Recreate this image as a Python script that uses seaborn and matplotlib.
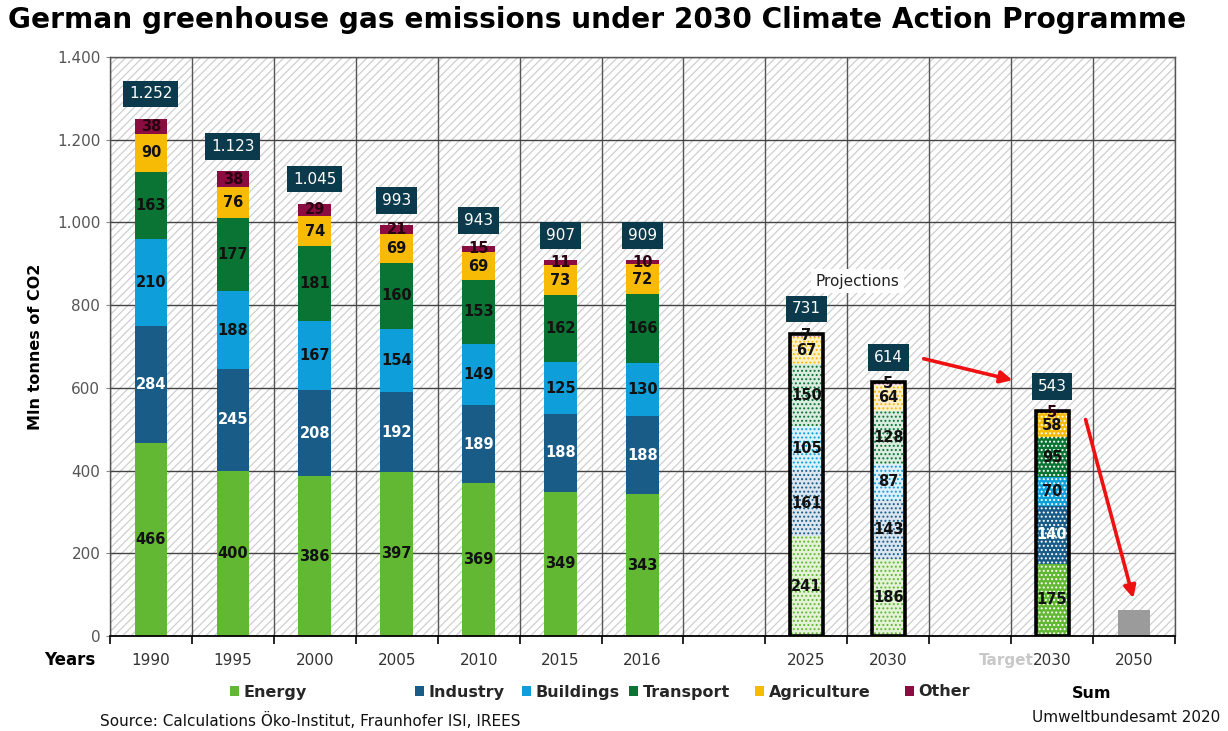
import numpy as np
import pandas as pd
import matplotlib
matplotlib.use("Agg")
import matplotlib.pyplot as plt
import matplotlib.transforms as mtransforms
from matplotlib.patches import Rectangle, Patch
from matplotlib.ticker import FixedLocator, FuncFormatter
import seaborn as sns

# ---------------- data ----------------
categories = ["1990", "1995", "2000", "2005", "2010", "2015", "2016", "gap_a",
              "2025", "2030", "gap_b", "Target 2030", "2050"]
tick_labels = ["1990", "1995", "2000", "2005", "2010", "2015", "2016", "",
               "2025", "2030", "", "2030", "2050"]
sectors = ["Energy", "Industry", "Buildings", "Transport", "Agriculture", "Other"]

historic_years = ["1990", "1995", "2000", "2005", "2010", "2015", "2016"]
projection_years = ["2025", "2030"]
target_years = ["Target 2030"]
bar_years = historic_years + projection_years + target_years

energy      = [466, 400, 386, 397, 369, 349, 343, 241, 186, 175]
industry    = [284, 245, 208, 192, 189, 188, 188, 161, 143, 140]
buildings   = [210, 188, 167, 154, 149, 125, 130, 105, 87, 70]
transport   = [163, 177, 181, 160, 153, 162, 166, 150, 128, 95]
agriculture = [90, 76, 74, 69, 69, 73, 72, 67, 64, 58]
other       = [38, 38, 29, 21, 15, 11, 10, 7, 5, 5]
sum_labels  = ["1.252", "1.123", "1.045", "993", "943", "907", "909", "731", "614", "543"]

goal_years = ["2050"]
goal_values = [62]

sector_values = {"Energy": energy, "Industry": industry, "Buildings": buildings,
                 "Transport": transport, "Agriculture": agriculture, "Other": other}

# ---------------- styles ----------------
colors = {"Energy": "#62b733", "Industry": "#195c88", "Buildings": "#0e9fdb",
          "Transport": "#0a7434", "Agriculture": "#f8bb05", "Other": "#8a0c40"}
pale = {"Energy": "#e4f3d7", "Industry": "#dae5ef", "Buildings": "#dcf1fb",
        "Transport": "#d9ecdf", "Agriculture": "#fdf1cc", "Other": "#f0d6df"}
label_colors = {"Energy": "#111111", "Industry": "white", "Buildings": "#111111",
                "Transport": "#111111", "Agriculture": "#111111", "Other": "#2a0010"}

sns.set_theme(style="white")
plt.rcParams["font.family"] = ["DejaVu Sans"]
plt.rcParams["hatch.linewidth"] = 0.9

# long table
rows = []
for s in sectors:
    for y, v in zip(bar_years, sector_values[s]):
        rows.append({"year": y, "sector": s, "value": v})
df = pd.DataFrame(rows)
df["bottom"] = df.groupby("year")["value"].cumsum() - df["value"]
df["top"] = df["bottom"] + df["value"]
df["group"] = np.where(df["year"].isin(historic_years), "hist",
                       np.where(df["year"].isin(projection_years), "proj", "target"))

fig = plt.figure(figsize=(12.28, 7.31), dpi=100)
ax = fig.add_axes([110 / 1228, 1 - 636 / 731, (1175 - 110) / 1228, (636 - 57) / 731])

# hatched background
bg = Rectangle((0, 0), 1, 1, transform=ax.transAxes, facecolor="white",
               edgecolor="#cfcfcf", hatch="////", linewidth=0, zorder=0)
ax.add_patch(bg)

W = 0.4
# draw stacked bars as overlapping cumulative totals (top layer first)
for s in reversed(sectors):
    sub = df[df["sector"] == s]
    h = sub[sub["group"] == "hist"]
    sns.barplot(data=h, x="year", y="top", order=categories, color=colors[s],
                saturation=1, width=W, linewidth=0, errorbar=None, ax=ax)
    p = sub[sub["group"] == "proj"]
    sns.barplot(data=p, x="year", y="top", order=categories, color=pale[s],
                saturation=1, width=W, linewidth=0, edgecolor=colors[s],
                hatch="....", errorbar=None, ax=ax)
    t = sub[sub["group"] == "target"]
    sns.barplot(data=t, x="year", y="top", order=categories, color=colors[s],
                saturation=1, width=W, linewidth=0, edgecolor="white",
                hatch="....", errorbar=None, ax=ax)

# 2050 goal bar
sns.barplot(x=goal_years, y=goal_values, order=categories, color="#9b9b9b",
            saturation=1, width=W, linewidth=0, errorbar=None, ax=ax)

# black outlines for projection and target bars
totals = df.groupby("year", sort=False)["value"].sum()
outl = pd.DataFrame({"year": totals.index, "total": totals.values})
outl = outl[outl["year"].isin(projection_years + target_years)]
sns.barplot(data=outl, x="year", y="total", order=categories, fill=False,
            color="black", width=W, linewidth=2.6, errorbar=None, ax=ax)

# segment labels
for _, r in df.iterrows():
    x = categories.index(r["year"])
    col = label_colors[r["sector"]] if r["group"] != "proj" else "#111111"
    if r["group"] == "target" and r["sector"] == "Industry":
        col = "white"
    ax.text(x, r["bottom"] + r["value"] / 2, str(r["value"]), ha="center",
            va="center", fontsize=10.5, fontweight="bold", color=col, zorder=5)

# sum boxes
for y, lab in zip(bar_years, sum_labels):
    x = categories.index(y)
    ax.text(x, totals[y] + 60, lab, ha="center", va="center", fontsize=11,
            color="white", zorder=6,
            bbox=dict(boxstyle="square,pad=0.38", facecolor="#0c3a4d", edgecolor="none"))

# projections label
ax.text(8.62, 858, "Projections", ha="center", va="center", fontsize=11, color="#222222",
        zorder=6, bbox=dict(boxstyle="square,pad=0.3", facecolor="white", edgecolor="none"))

# red arrows
ax.annotate("", xy=(10.55, 617), xytext=(9.4, 672),
            arrowprops=dict(arrowstyle="-|>", color="#ee1111", lw=2.6, mutation_scale=18),
            zorder=7)
ax.annotate("", xy=(12.0, 85), xytext=(11.4, 530),
            arrowprops=dict(arrowstyle="-|>", color="#ee1111", lw=2.6, mutation_scale=18),
            zorder=7)

# axes formatting
ax.set_xlim(-0.5, len(categories) - 0.5)
ax.set_ylim(0, 1400)
ax.set_yticks(np.arange(0, 1401, 200))
ax.yaxis.set_major_formatter(FuncFormatter(lambda v, p: f"{int(v):,}".replace(",", ".")))
ax.set_xticks(range(len(categories)))
ax.set_xticklabels(tick_labels)
ax.xaxis.set_minor_locator(FixedLocator(np.arange(-0.5, len(categories), 1.0)))
ax.tick_params(axis="x", which="major", length=0, pad=12, labelsize=11, labelcolor="#333333")
ax.tick_params(axis="x", which="minor", length=6, width=1.2, color="black", bottom=True)
ax.tick_params(axis="y", which="major", length=3, width=0.8, color="#888888",
               labelsize=11, labelcolor="#555555", left=True, pad=4)
ax.set_axisbelow(True)
ax.grid(False)
ax.yaxis.grid(True, color="#444444", linewidth=1.0, zorder=0.5)
ax.xaxis.grid(True, which="minor", color="#555555", linewidth=1.0, zorder=0.5)
ax.set_xlabel("")
ax.set_ylabel("Mln tonnes of CO2", fontsize=11.5, fontweight="bold", color="black", labelpad=10)
for side in ["top", "right", "left"]:
    ax.spines[side].set_color("#555555")
    ax.spines[side].set_linewidth(1.0)
ax.spines["bottom"].set_color("black")
ax.spines["bottom"].set_linewidth(1.3)

# "Target" prefix on the x tick label
trans = mtransforms.blended_transform_factory(ax.transData, ax.transAxes)
ax.text(10.78, -0.0415, "Target", transform=trans, ha="right", va="center",
        fontsize=11, fontweight="bold", color="#c8c8c8")

# title & annotations
fig.text(0.486, 0.972, "German greenhouse gas emissions under 2030 Climate Action Programme",
         ha="center", va="center", fontsize=20.2, fontweight="bold", color="black")
fig.text(70 / 1228, 1 - 660 / 731, "Years", ha="center", va="center", fontsize=12,
         fontweight="bold", color="black")
fig.text(100 / 1228, 1 - 720 / 731, "Source: Calculations Öko-Institut, Fraunhofer ISI, IREES",
         ha="left", va="center", fontsize=11, color="#111111")
fig.text(1220 / 1228, 1 - 718 / 731, "Umweltbundesamt 2020", ha="right", va="center",
         fontsize=11, color="#111111")

# legend entries (individually placed)
legend_x = {"Energy": 230, "Industry": 415, "Buildings": 522, "Transport": 629,
            "Agriculture": 755, "Other": 905}
for s in sectors:
    lg = fig.legend(handles=[Patch(facecolor=colors[s], edgecolor="none")], labels=[s],
                    loc="center left", bbox_to_anchor=(legend_x[s] / 1228, 1 - 692 / 731),
                    frameon=False, handlelength=0.55, handleheight=0.55, handletextpad=0.3,
                    borderpad=0, borderaxespad=0,
                    prop=dict(size=11.5, weight="bold"))
fig.text(1092 / 1228, 1 - 693 / 731, "Sum", ha="center", va="center", fontsize=11.5,
         fontweight="bold", color="black")

fig.savefig("out.png", dpi=100)
